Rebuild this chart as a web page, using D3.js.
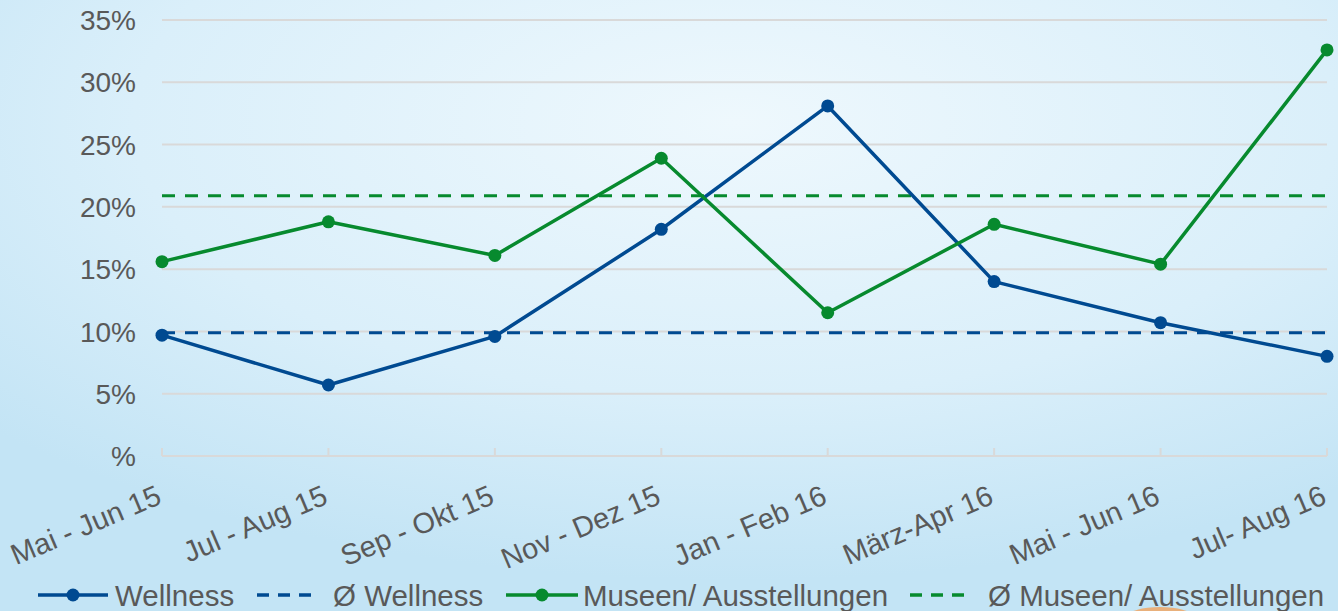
<!DOCTYPE html>
<html>
<head>
<meta charset="utf-8">
<script src="https://cdn.jsdelivr.net/npm/d3@7"></script>
<style>
  html, body { margin: 0; padding: 0; }
  body { width: 1338px; height: 611px; overflow: hidden; }
  svg { display: block; font-family: Arial, "Liberation Sans", sans-serif; }
</style>
</head>
<body>
<svg id="chart" width="1338" height="611"></svg>
<script>
const categories = ["Mai - Jun 15", "Jul - Aug 15", "Sep - Okt 15", "Nov - Dez 15",
  "Jan - Feb 16", "März-Apr 16", "Mai - Jun 16", "Jul- Aug 16"];
const wellness = [9.7, 5.7, 9.6, 18.2, 28.1, 14.0, 10.7, 8.0];
const wellnessAvg = 9.9;
const museen = [15.6, 18.8, 16.1, 23.9, 11.5, 18.6, 15.4, 32.6];
const museenAvg = 20.9;
const yTicks = [0, 5, 10, 15, 20, 25, 30, 35];
const legendItems = [
  { label: "Wellness", color: "#004a91", dashed: false, x: 38, w: 70, tx: 115 },
  { label: "Ø Wellness", color: "#004a91", dashed: true, x: 257, w: 60, tx: 333 },
  { label: "Museen/ Ausstellungen", color: "#078a2e", dashed: false, x: 506, w: 72, tx: 583 },
  { label: "Ø Museen/ Ausstellungen", color: "#078a2e", dashed: true, x: 910, w: 62, tx: 988 }
];

const blue = "#004a91", green = "#078a2e", textColor = "#595959", gridColor = "#d9d9d9";

const svg = d3.select("#chart");

// background
const defs = svg.append("defs");
const bg = defs.append("radialGradient")
  .attr("id", "bg")
  .attr("cx", "0.55").attr("cy", "0.2").attr("r", "0.75");
bg.append("stop").attr("offset", "0%").attr("stop-color", "#eef8fd");
bg.append("stop").attr("offset", "60%").attr("stop-color", "#daeffa");
bg.append("stop").attr("offset", "100%").attr("stop-color", "#c3e4f5");
svg.append("rect").attr("width", 1338).attr("height", 611).attr("fill", "url(#bg)");

// little orange shape peeking at the bottom
svg.append("ellipse")
  .attr("cx", 1160).attr("cy", 616).attr("rx", 32).attr("ry", 9)
  .attr("fill", "#f2a35c").attr("opacity", 0.8);

const x = d3.scalePoint().domain(categories).range([162, 1327]);
const y = d3.scaleLinear().domain([0, 35]).range([456, 20]);

// grid
svg.append("g")
  .selectAll("line")
  .data(yTicks.filter(d => d > 0))
  .join("line")
    .attr("x1", 162).attr("x2", 1327)
    .attr("y1", d => y(d)).attr("y2", d => y(d))
    .attr("stroke", gridColor).attr("stroke-width", 2);

// x axis line + inner ticks
const xAxis = svg.append("g");
xAxis.append("line")
  .attr("x1", 162).attr("x2", 1327)
  .attr("y1", y(0)).attr("y2", y(0))
  .attr("stroke", gridColor).attr("stroke-width", 2);
xAxis.selectAll("line.tick")
  .data(categories)
  .join("line")
    .attr("class", "tick")
    .attr("x1", d => x(d)).attr("x2", d => x(d))
    .attr("y1", y(0)).attr("y2", y(0) - 8)
    .attr("stroke", gridColor).attr("stroke-width", 2);
xAxis.selectAll("text")
  .data(categories)
  .join("text")
    .attr("transform", d => `translate(${x(d) + 1}, 503) rotate(-23)`)
    .attr("text-anchor", "end")
    .attr("font-size", 29)
    .attr("fill", textColor)
    .text(d => d);

// y axis labels
svg.append("g")
  .selectAll("text")
  .data(yTicks)
  .join("text")
    .attr("x", 136)
    .attr("y", d => y(d))
    .attr("dy", "0.36em")
    .attr("text-anchor", "end")
    .attr("font-size", 28)
    .attr("fill", textColor)
    .text(d => d === 0 ? "%" : d + "%");

// average lines
const avgLine = (val, color) => svg.append("line")
  .attr("x1", 162).attr("x2", 1327)
  .attr("y1", y(val)).attr("y2", y(val))
  .attr("stroke", color).attr("stroke-width", 3)
  .attr("stroke-dasharray", "13,10");
avgLine(wellnessAvg, blue);
avgLine(museenAvg, green);

// series
const line = d3.line().x((d, i) => x(categories[i])).y(d => y(d));
const drawSeries = (values, color) => {
  svg.append("path")
    .datum(values)
    .attr("d", line)
    .attr("fill", "none")
    .attr("stroke", color)
    .attr("stroke-width", 3.5)
    .attr("stroke-linejoin", "round");
  svg.append("g")
    .selectAll("circle")
    .data(values)
    .join("circle")
      .attr("cx", (d, i) => x(categories[i]))
      .attr("cy", d => y(d))
      .attr("r", 6.5)
      .attr("fill", color);
};
drawSeries(wellness, blue);
drawSeries(museen, green);

// legend
const legend = svg.append("g").attr("transform", "translate(0, 595)");
const li = legend.selectAll("g").data(legendItems).join("g");
li.append("line")
  .attr("x1", d => d.x).attr("x2", d => d.x + d.w)
  .attr("y1", 0).attr("y2", 0)
  .attr("stroke", d => d.color).attr("stroke-width", 3.5)
  .attr("stroke-dasharray", d => d.dashed ? "12,9" : null);
li.filter(d => !d.dashed).append("circle")
  .attr("cx", d => d.x + d.w / 2).attr("cy", 0).attr("r", 6.5)
  .attr("fill", d => d.color);
li.append("text")
  .attr("x", d => d.tx).attr("y", 0).attr("dy", "0.36em")
  .attr("font-size", 29.5).attr("fill", textColor)
  .text(d => d.label);
</script>
</body>
</html>
